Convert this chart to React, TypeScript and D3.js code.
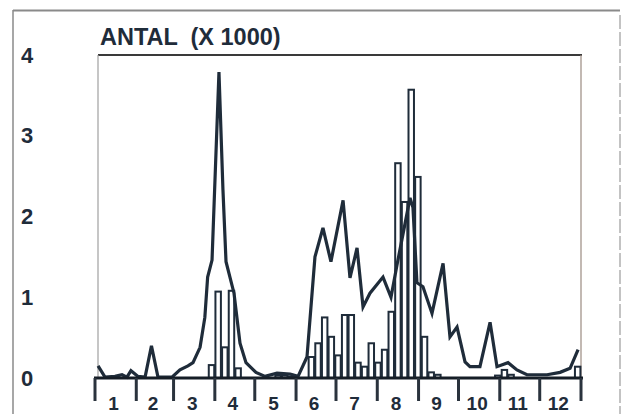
import React from "react";
import * as d3 from "d3";

// Line series: day-of-year and value (x 1000)
const lineDays = [2.3, 7.5, 15, 20.3, 24, 27, 32.3, 37.6, 42.4, 47.3, 57.8, 63.8, 69.8, 73.6, 78.9, 82.5, 84.6, 87.9, 93.1, 96.1, 98.4, 104.4, 108.9, 113.4, 120.9, 127.7, 136.7, 146.5, 152.5, 159.2, 165.2, 171.2, 177.2, 186.3, 191.5, 196.8, 201.3, 206.5, 216.3, 222.3, 226.8, 236.6, 238.8, 241.8, 246.3, 253.1, 261.4, 266.6, 271.9, 277.9, 281.6, 289.1, 296.7, 301.9, 310.2, 316.9, 324.4, 339.5, 349.3, 356.8, 362.8];
const lineValues = [0.15, 0.01, 0.02, 0.04, 0.01, 0.09, 0.02, 0.01, 0.4, 0.01, 0.01, 0.1, 0.15, 0.19, 0.38, 0.75, 1.25, 1.46, 3.79, 2.33, 1.44, 1.05, 0.43, 0.19, 0.07, 0.02, 0.06, 0.05, 0.02, 0.26, 1.5, 1.86, 1.44, 2.2, 1.24, 1.61, 0.88, 1.05, 1.25, 1.0, 1.4, 2.23, 2.11, 1.18, 1.13, 0.8, 1.42, 0.51, 0.63, 0.2, 0.14, 0.14, 0.69, 0.14, 0.19, 0.1, 0.04, 0.04, 0.07, 0.12, 0.35];

// Bar series: 5-day period index and value (x 1000)
const barPeriods = [17, 18, 19, 20, 21, 27, 28, 29, 32, 33, 34, 35, 36, 37, 38, 39, 40, 41, 42, 43, 44, 45, 46, 47, 48, 49, 50, 51, 60, 61, 62, 72];
const barValues = [0.16, 1.07, 0.38, 1.08, 0.12, 0.03, 0.03, 0.02, 0.26, 0.43, 0.75, 0.51, 0.28, 0.78, 0.78, 0.19, 0.14, 0.43, 0.19, 0.35, 0.82, 2.66, 2.18, 3.57, 2.49, 0.51, 0.07, 0.04, 0.03, 0.1, 0.04, 0.14];

const monthStarts = [0, 31, 59, 90, 120, 151, 181, 212, 243, 273, 304, 334, 365];
const monthLabels = ["1", "2", "3", "4", "5", "6", "7", "8", "9", "10", "11", "12"];
const yTicks = [0, 1, 2, 3, 4];
const title = "ANTAL  (X 1000)";

const W = 626;
const H = 414;
const ink = "#1f2c3a";
const font = "'Liberation Sans', Arial, Helvetica, sans-serif";

export default function App() {
  const x = d3.scaleLinear().domain([0, 365]).range([95, 581]);
  const y = d3.scaleLinear().domain([0, 4]).range([378, 55]);
  const line = d3
    .line<number>()
    .x((_, i) => x(lineDays[i]))
    .y((d) => y(d));
  const bw = x(5) - x(0);

  return (
    <div style={{ position: "fixed", left: 0, top: 0, width: W, height: H, background: "#fff" }}>
      <svg width={W} height={H} style={{ display: "block" }}>
        <rect width={W} height={H} fill="#fff" />
        {/* outer frame */}
        <line x1={13} y1={10} x2={13} y2={414} stroke="#8a8a8a" strokeWidth={1.5} />
        <line x1={13} y1={10.5} x2={620} y2={10.5} stroke="#8a8a8a" strokeWidth={2} />
        <line x1={620} y1={15} x2={620} y2={414} stroke="#b0b0b0" strokeWidth={1.5} strokeDasharray="14 3" />

        {/* inner frame */}
        <line x1={98} y1={55} x2={582} y2={55} stroke="#3a3a3a" strokeWidth={2} />
        <line x1={98} y1={55} x2={98} y2={378} stroke="#a0a0a0" strokeWidth={1.2} />
        <line x1={581} y1={55} x2={581} y2={378} stroke="#9a8a80" strokeWidth={1.2} />

        {/* title */}
        <text x={100} y={45} fontFamily={font} fontSize={23.5} fontWeight="bold" fill={ink} style={{ whiteSpace: "pre" }}>
          {title}
        </text>

        {/* y labels */}
        {yTicks.map((t) => (
          <text key={t} x={27} y={y(t)} textAnchor="middle" dominantBaseline="central" fontFamily={font} fontSize={22} fontWeight="bold" fill={ink}>
            {t}
          </text>
        ))}

        {/* bars */}
        {barPeriods.map((p, i) => (
          <rect
            key={p}
            x={x(p * 5) + 0.6}
            y={y(barValues[i])}
            width={bw - 1.2}
            height={y(0) - y(barValues[i])}
            fill="#fff"
            stroke={ink}
            strokeWidth={2}
          />
        ))}

        {/* line */}
        <path d={line(lineValues) || ""} fill="none" stroke={ink} strokeWidth={3.2} strokeLinejoin="miter" />

        {/* baseline */}
        <line x1={94} y1={378} x2={583} y2={378} stroke="#151d26" strokeWidth={3} />

        {/* month ticks */}
        {monthStarts.map((m) => (
          <line key={m} x1={x(m)} y1={378} x2={x(m)} y2={401} stroke="#2a333d" strokeWidth={3} />
        ))}

        {/* month labels */}
        {monthLabels.map((lab, i) => (
          <text
            key={lab}
            x={(x(monthStarts[i]) + x(monthStarts[i + 1])) / 2 - 2}
            y={410}
            textAnchor="middle"
            fontFamily={font}
            fontSize={19}
            fontWeight="bold"
            fill={ink}
          >
            {lab}
          </text>
        ))}
      </svg>
    </div>
  );
}
